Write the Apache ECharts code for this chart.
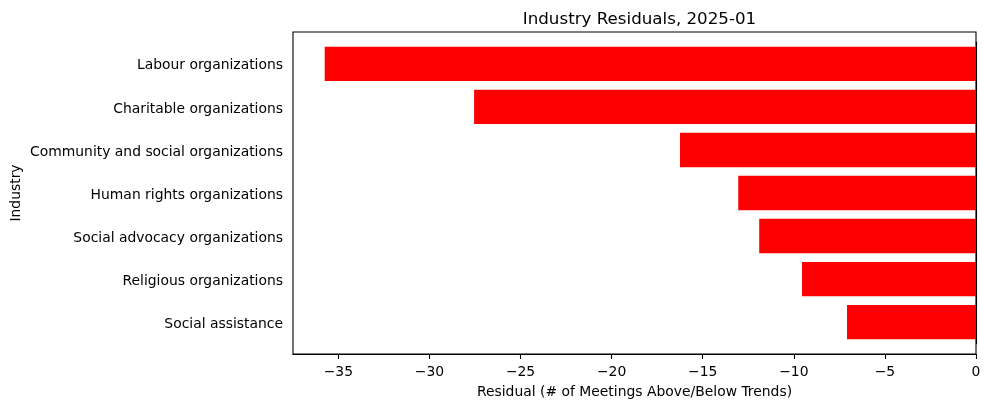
<!DOCTYPE html>
<html><head><meta charset="utf-8">
<script src="https://cdn.jsdelivr.net/npm/echarts@6/dist/echarts.min.js"></script>
<style>html,body{margin:0;padding:0;background:#fff}#c{width:990px;height:409px}</style>
</head><body><div id="c"></div>
<script>
const categories = ["Labour organizations","Charitable organizations","Community and social organizations","Human rights organizations","Social advocacy organizations","Religious organizations","Social assistance"];
const residuals = [-35.75, -27.55, -16.25, -13.05, -11.9, -9.55, -7.08];
const xTicks = [-35, -30, -25, -20, -15, -10, -5, 0];
const titleText = "Industry Residuals, 2025-01";
const xName = "Residual (# of Meetings Above/Below Trends)";
const yName = "Industry";

const FONT = "DejaVu Sans";
const FS = 13.9;
const xMin = -37.49, xMax = 0;
const L = 293, R = 14, T = 32, B = 55;
const plotH = 409 - T - B;
const unit = plotH / 7.48;
const g0Top = T + 0.24 * unit;
const g0H = 7 * unit;
const minus = v => String(v).replace('-', '\u2212');

const chart = echarts.init(document.getElementById('c'), null, {renderer: 'canvas'});
chart.setOption({
  animation: false,
  backgroundColor: '#fff',
  textStyle: {fontFamily: FONT},
  title: {
    text: titleText, left: L + (990 - L - R) / 2, top: 6, textAlign: 'center',
    textStyle: {fontFamily: FONT, fontSize: 16.7, fontWeight: 'normal', color: '#000'}
  },
  grid: [
    {left: L, right: R, top: g0Top, height: g0H, show: false},
    {left: L, right: R, top: T, bottom: B, show: true, borderColor: '#000', borderWidth: 1.1, backgroundColor: 'transparent'}
  ],
  xAxis: [
    {gridIndex: 0, type: 'value', min: xMin, max: xMax, show: false},
    {gridIndex: 1, type: 'value', min: xMin, max: xMax,
     name: xName, nameLocation: 'middle', nameGap: 31,
     nameTextStyle: {fontFamily: FONT, fontSize: FS, color: '#000'},
     splitLine: {show: false},
     axisLine: {show: true, lineStyle: {color: '#000', width: 1.1}},
     axisTick: {show: true, customValues: xTicks, length: 5, lineStyle: {color: '#000', width: 1.1}},
     axisLabel: {customValues: xTicks, margin: 11, fontFamily: FONT, fontSize: FS, color: '#000', formatter: v => minus(v)}
    }
  ],
  yAxis: [
    {gridIndex: 0, type: 'category', data: categories, inverse: true,
     axisLine: {show: true, lineStyle: {color: '#000', width: 1.1}},
     axisTick: {show: true, alignWithLabel: true, interval: 0, length: 5, lineStyle: {color: '#000', width: 1.1}},
     axisLabel: {margin: 10, interval: 0, color: '#000',
       formatter: v => '{a|' + v + '}',
       rich: {a: {fontFamily: FONT, fontSize: FS, color: '#000', padding: [4, 0, 0, 0]}}},
     splitLine: {show: false}
    },
    {gridIndex: 1, type: 'value', min: 0, max: 1, show: true,
     name: yName, nameLocation: 'middle', nameGap: 270, nameRotate: 90,
     nameTextStyle: {fontFamily: FONT, fontSize: FS, color: '#000'},
     axisLine: {show: false}, axisTick: {show: false}, axisLabel: {show: false}, splitLine: {show: false}
    }
  ],
  series: [{
    type: 'bar', xAxisIndex: 0, yAxisIndex: 0,
    data: residuals, barWidth: '80%',
    itemStyle: {color: '#ff0000'}
  }]
});
</script></body></html>
